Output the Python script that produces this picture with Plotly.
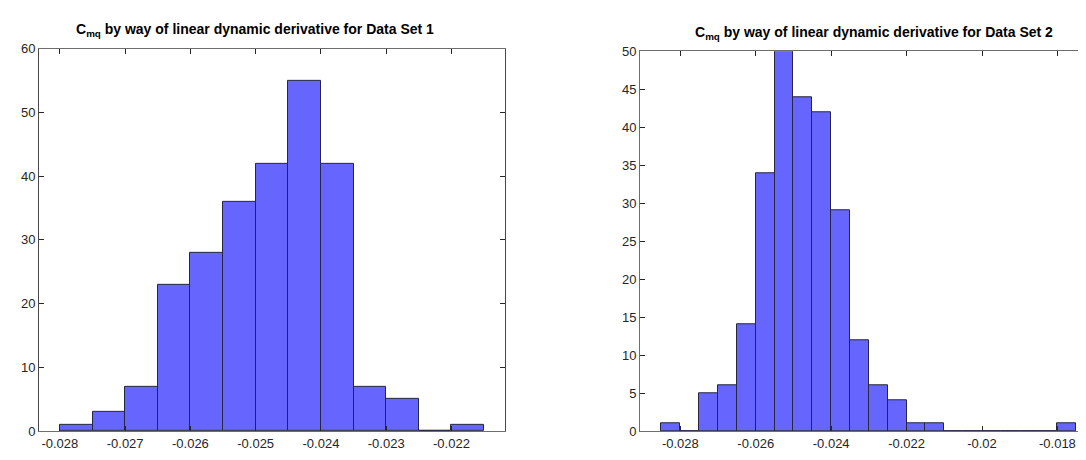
import plotly.graph_objects as go

# ---- data ----
bin_width = 0.0005
bin_start_1 = -0.028
counts_1 = [1, 3, 7, 23, 28, 36, 42, 55, 42, 7, 5, 0, 1]
bin_start_2 = -0.0285
counts_2 = [1, 0, 5, 6, 14, 34, 50, 44, 42, 29, 12, 6, 4, 1, 1, 0, 0, 0, 0, 0, 0, 1]

xtick_vals_1 = [-0.028, -0.027, -0.026, -0.025, -0.024, -0.023, -0.022]
xtick_text_1 = ["-0.028", "-0.027", "-0.026", "-0.025", "-0.024", "-0.023", "-0.022"]
xtick_vals_2 = [-0.028, -0.026, -0.024, -0.022, -0.020, -0.018]
xtick_text_2 = ["-0.028", "-0.026", "-0.024", "-0.022", "-0.02", "-0.018"]
ytick_vals_1 = [0, 10, 20, 30, 40, 50, 60]
ytick_vals_2 = [0, 5, 10, 15, 20, 25, 30, 35, 40, 45, 50]

title_1 = "C<sub>mq</sub> by way of linear dynamic derivative for Data Set 1"
title_2 = "C<sub>mq</sub> by way of linear dynamic derivative for Data Set 2"

W, H = 1086, 460
FACE = "#6666FF"
EDGE = "#262640"
AX = "#262626"
FONT = "Liberation Sans, Arial, sans-serif"


def centers(start, counts):
    return [start + (i + 0.5) * bin_width for i in range(len(counts))]


fig = go.Figure()
fig.add_trace(go.Bar(x=centers(bin_start_1, counts_1), y=counts_1, width=bin_width,
                     marker=dict(color=FACE, line=dict(color=EDGE, width=1)),
                     xaxis="x", yaxis="y", showlegend=False))
fig.add_trace(go.Bar(x=centers(bin_start_2, counts_2), y=counts_2, width=bin_width,
                     marker=dict(color=FACE, line=dict(color=EDGE, width=1)),
                     xaxis="x2", yaxis="y2", showlegend=False))

# pixel geometry
L1, R1 = 31, 497
L2, R2 = 632, 1086
B = 430
T1, T2 = 35, 37.5


def px_x(p):
    return p / W


def px_y(p):
    return (H - p) / H


def axis_style(linecolor):
    return dict(showline=True, linecolor=linecolor, linewidth=1,
                ticks="inside", ticklen=5, tickcolor=AX, tickwidth=1,
                showgrid=False, zeroline=False,
                tickfont=dict(family=FONT, size=13, color=AX))


fig.update_layout(
    width=W, height=H,
    margin=dict(l=0, r=0, t=0, b=0),
    paper_bgcolor="white", plot_bgcolor="white",
    bargap=0,
    xaxis=dict(domain=[px_x(L1), px_x(R1)], range=[-0.02832, -0.02118], anchor="y",
               tickvals=xtick_vals_1, ticktext=xtick_text_1, mirror="ticks", **axis_style("#6e6e6e")),
    yaxis=dict(domain=[px_y(B), px_y(T1)], range=[0, 60], anchor="x",
               tickvals=ytick_vals_1, mirror="ticks", **axis_style("#484848")),
    xaxis2=dict(domain=[px_x(L2), 1.0], range=[-0.02907, -0.01703], anchor="y2",
                tickvals=xtick_vals_2, ticktext=xtick_text_2, mirror="ticks", **axis_style("#6e6e6e")),
    yaxis2=dict(domain=[px_y(B), px_y(T2)], range=[0, 50], anchor="x2",
                tickvals=ytick_vals_2, mirror=False, **axis_style("#6e6e6e")),
    annotations=[
        dict(text="<b>" + title_1 + "</b>", x=247 / W, y=px_y(27), xref="paper", yref="paper",
             xanchor="center", yanchor="bottom", showarrow=False,
             font=dict(family=FONT, size=14, color="#000000")),
        dict(text="<b>" + title_2 + "</b>", x=866 / W, y=px_y(30), xref="paper", yref="paper",
             xanchor="center", yanchor="bottom", showarrow=False,
             font=dict(family=FONT, size=14, color="#000000")),
    ],
)

fig.write_html("out.html")
